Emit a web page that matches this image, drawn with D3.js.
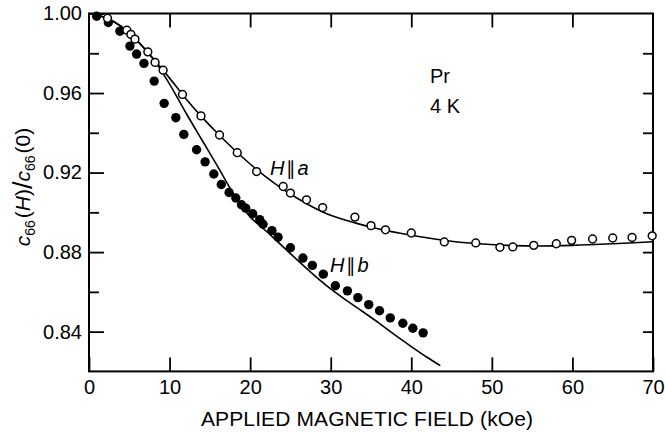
<!DOCTYPE html>
<html>
<head>
<meta charset="utf-8">
<script src="https://cdn.jsdelivr.net/npm/d3@7"></script>
<style>
  body { margin: 0; background: #fff; }
  svg { display: block; font-family: "Liberation Sans", Arial, sans-serif; }
</style>
</head>
<body>
<svg id="chart" width="665" height="433"></svg>
<script>
// H || a, open circles
const fieldA = [2.3, 4.7, 5.2, 5.7, 7.3, 8.2, 9.2, 11.6, 13.9, 16.2, 18.4, 20.8, 24.1, 25.0, 27.0, 29.0,
    33.0, 35.0, 36.8, 40.0, 44.1, 48.0, 51.0, 52.6, 55.2, 58.0, 59.9, 62.5, 65.0, 67.4, 69.9];
const valueA = [0.9976, 0.9916, 0.9895, 0.9871, 0.9807, 0.9754, 0.9715, 0.9593, 0.9485, 0.9389, 0.930, 0.9205,
    0.913, 0.9097, 0.9063, 0.9024, 0.8976, 0.8933, 0.8912, 0.8896, 0.8851, 0.8846, 0.8824, 0.8826, 0.8834,
    0.8842, 0.8859, 0.8866, 0.8871, 0.8874, 0.8882];

// H || b, filled circles
const fieldB = [0.95, 2.4, 3.84, 5.08, 5.91, 6.82, 8.09, 9.33, 10.78, 11.77, 13.35, 14.41, 15.49, 16.42,
    17.39, 18.22, 18.92, 19.45, 20.32, 21.19, 21.6, 22.7, 23.46, 25.0, 26.55, 27.72, 29.08, 30.58, 32.07,
    33.37, 34.72, 36.06, 37.39, 38.95, 40.19, 41.47];
const valueB = [0.9986, 0.9955, 0.9911, 0.9836, 0.9796, 0.9749, 0.966, 0.9548, 0.9476, 0.9392, 0.9315,
    0.9254, 0.9193, 0.914, 0.910, 0.9072, 0.9038, 0.9021, 0.8993, 0.8963, 0.894, 0.8908, 0.8875, 0.8822,
    0.877, 0.8733, 0.8689, 0.8631, 0.8605, 0.8571, 0.8536, 0.8505, 0.8469, 0.8442, 0.8417, 0.8394];

// solid theory curves
const curveFieldA = [0, 2, 4, 6, 8, 10, 12, 14, 16, 18, 20, 22, 24, 26, 28, 30, 33, 36, 40, 44, 48, 52, 56, 60, 65, 70];
const curveValueA = [1.0, 0.998, 0.9935, 0.9862, 0.9772, 0.9675, 0.9573, 0.948, 0.9395, 0.9316, 0.9243,
    0.9177, 0.9118, 0.9067, 0.9022, 0.8985, 0.8947, 0.8916, 0.8885, 0.8860, 0.8843, 0.8834, 0.8831, 0.8834,
    0.8842, 0.8852];
const curveFieldB = [0, 2, 4, 6, 8, 10, 12, 14, 16, 18, 20, 22, 24, 26, 28, 30, 32, 34, 36, 38, 40, 42, 43.6];
const curveValueB = [1.0, 0.998, 0.9935, 0.9862, 0.9770, 0.9645, 0.9502, 0.9365, 0.9229, 0.9089, 0.8977,
    0.8905, 0.8830, 0.8755, 0.8682, 0.8615, 0.8556, 0.8500, 0.8443, 0.8382, 0.8325, 0.8270, 0.8229];

const xTicks = [0, 10, 20, 30, 40, 50, 60, 70];
const yTicks = [0.84, 0.88, 0.92, 0.96, 1.00];
const yMinor = [0.86, 0.90, 0.94, 0.98];
const yRight = [0.84, 0.86, 0.88, 0.90, 0.92, 0.94, 0.96, 0.98];

const svg = d3.select("#chart");
const plotLeft = 89, plotRight = 653, plotTop = 13.5, plotBottom = 371.4;

const x = d3.scaleLinear().domain([0, 70]).range([plotLeft, plotRight]);
const y = d3.scaleLinear().domain([0.82, 1.0]).range([plotBottom, plotTop]);

// left axis, ticks inward
svg.append("g")
    .attr("transform", `translate(${plotLeft},0)`)
    .call(d3.axisLeft(y).tickValues(yTicks).tickSize(-15).tickPadding(7).tickFormat(d3.format(".2f")))
    .call((g) => g.select(".domain").remove())
    .selectAll("text")
    .style("font-size", "20px")
    .style("font-family", "Liberation Sans, Arial, sans-serif")
    .attr("fill", "#000");

svg.append("g")
    .attr("transform", `translate(${plotLeft},0)`)
    .call(d3.axisLeft(y).tickValues(yMinor).tickSize(-10).tickFormat(""))
    .call((g) => g.select(".domain").remove());

svg.append("g")
    .attr("transform", `translate(${plotRight},0)`)
    .call(d3.axisRight(y).tickValues(yRight).tickSize(-10).tickFormat(""))
    .call((g) => g.select(".domain").remove());

svg.append("g")
    .attr("transform", `translate(0,${plotBottom})`)
    .call(d3.axisBottom(x).tickValues(xTicks).tickSize(-14).tickPadding(8))
    .call((g) => g.select(".domain").remove())
    .selectAll("text")
    .style("font-size", "20px")
    .style("font-family", "Liberation Sans, Arial, sans-serif")
    .attr("fill", "#000");

svg.append("g")
    .attr("transform", `translate(0,${plotTop})`)
    .call(d3.axisTop(x).tickValues(xTicks.slice(1, -1)).tickSize(-14).tickFormat(""))
    .call((g) => g.select(".domain").remove());

svg.selectAll(".tick line")
    .attr("stroke", "#000")
    .attr("stroke-width", 1.8);

// frame
svg.append("rect")
    .attr("x", plotLeft)
    .attr("y", plotTop)
    .attr("width", plotRight - plotLeft)
    .attr("height", plotBottom - plotTop)
    .attr("fill", "none")
    .attr("stroke", "#000")
    .attr("stroke-width", 2);

const line = d3.line()
    .x((d) => x(d[0]))
    .y((d) => y(d[1]))
    .curve(d3.curveCatmullRom.alpha(0.5));

svg.append("path")
    .attr("d", line(d3.zip(curveFieldA, curveValueA)))
    .attr("fill", "none")
    .attr("stroke", "#000")
    .attr("stroke-width", 1.6);

svg.append("path")
    .attr("d", line(d3.zip(curveFieldB, curveValueB)))
    .attr("fill", "none")
    .attr("stroke", "#000")
    .attr("stroke-width", 1.6);

svg.append("g")
    .selectAll("circle")
    .data(d3.zip(fieldB, valueB))
    .join("circle")
    .attr("cx", (d) => x(d[0]))
    .attr("cy", (d) => y(d[1]))
    .attr("r", 4.7)
    .attr("fill", "#000");

svg.append("g")
    .selectAll("circle")
    .data(d3.zip(fieldA, valueA))
    .join("circle")
    .attr("cx", (d) => x(d[0]))
    .attr("cy", (d) => y(d[1]))
    .attr("r", 3.9)
    .attr("fill", "#fff")
    .attr("stroke", "#000")
    .attr("stroke-width", 1.5);

// labels
const labels = svg.append("g")
    .attr("font-size", "20px")
    .attr("fill", "#000");

labels.append("text").attr("x", 430).attr("y", 83).text("Pr");
labels.append("text").attr("x", 430).attr("y", 113).text("4 K");

const la = labels.append("text").attr("x", 270).attr("y", 175);
la.append("tspan").attr("font-style", "italic").text("H");
la.append("tspan").attr("font-size", "19px").attr("dx", 2).text("∥");
la.append("tspan").attr("font-style", "italic").attr("dx", 1).text("a");

const lb = labels.append("text").attr("x", 330).attr("y", 272);
lb.append("tspan").attr("font-style", "italic").text("H");
lb.append("tspan").attr("font-size", "19px").attr("dx", 2).text("∥");
lb.append("tspan").attr("font-style", "italic").attr("dx", 1).text("b");

// axis titles
svg.append("text")
    .attr("x", 367)
    .attr("y", 426)
    .attr("text-anchor", "middle")
    .attr("font-size", "21px")
    .attr("textLength", 332)
    .attr("lengthAdjust", "spacing")
    .text("APPLIED MAGNETIC FIELD (kOe)");

const yt = svg.append("text")
    .attr("transform", "translate(30,187) rotate(-90)")
    .attr("text-anchor", "middle")
    .attr("font-size", "21px");
yt.append("tspan").attr("font-style", "italic").text("c");
yt.append("tspan").attr("font-size", "14px").attr("dy", 5).text("66");
yt.append("tspan").attr("dy", -5).attr("dx", 2).text("(");
yt.append("tspan").attr("font-style", "italic").text("H");
yt.append("tspan").text(")");
yt.append("tspan").attr("font-size", "27px").attr("dy", 2).text("/");
yt.append("tspan").attr("font-style", "italic").attr("dy", -2).text("c");
yt.append("tspan").attr("font-size", "14px").attr("dy", 5).text("66");
yt.append("tspan").attr("dy", -5).attr("dx", 2).text("(0)");
</script>
</body>
</html>
